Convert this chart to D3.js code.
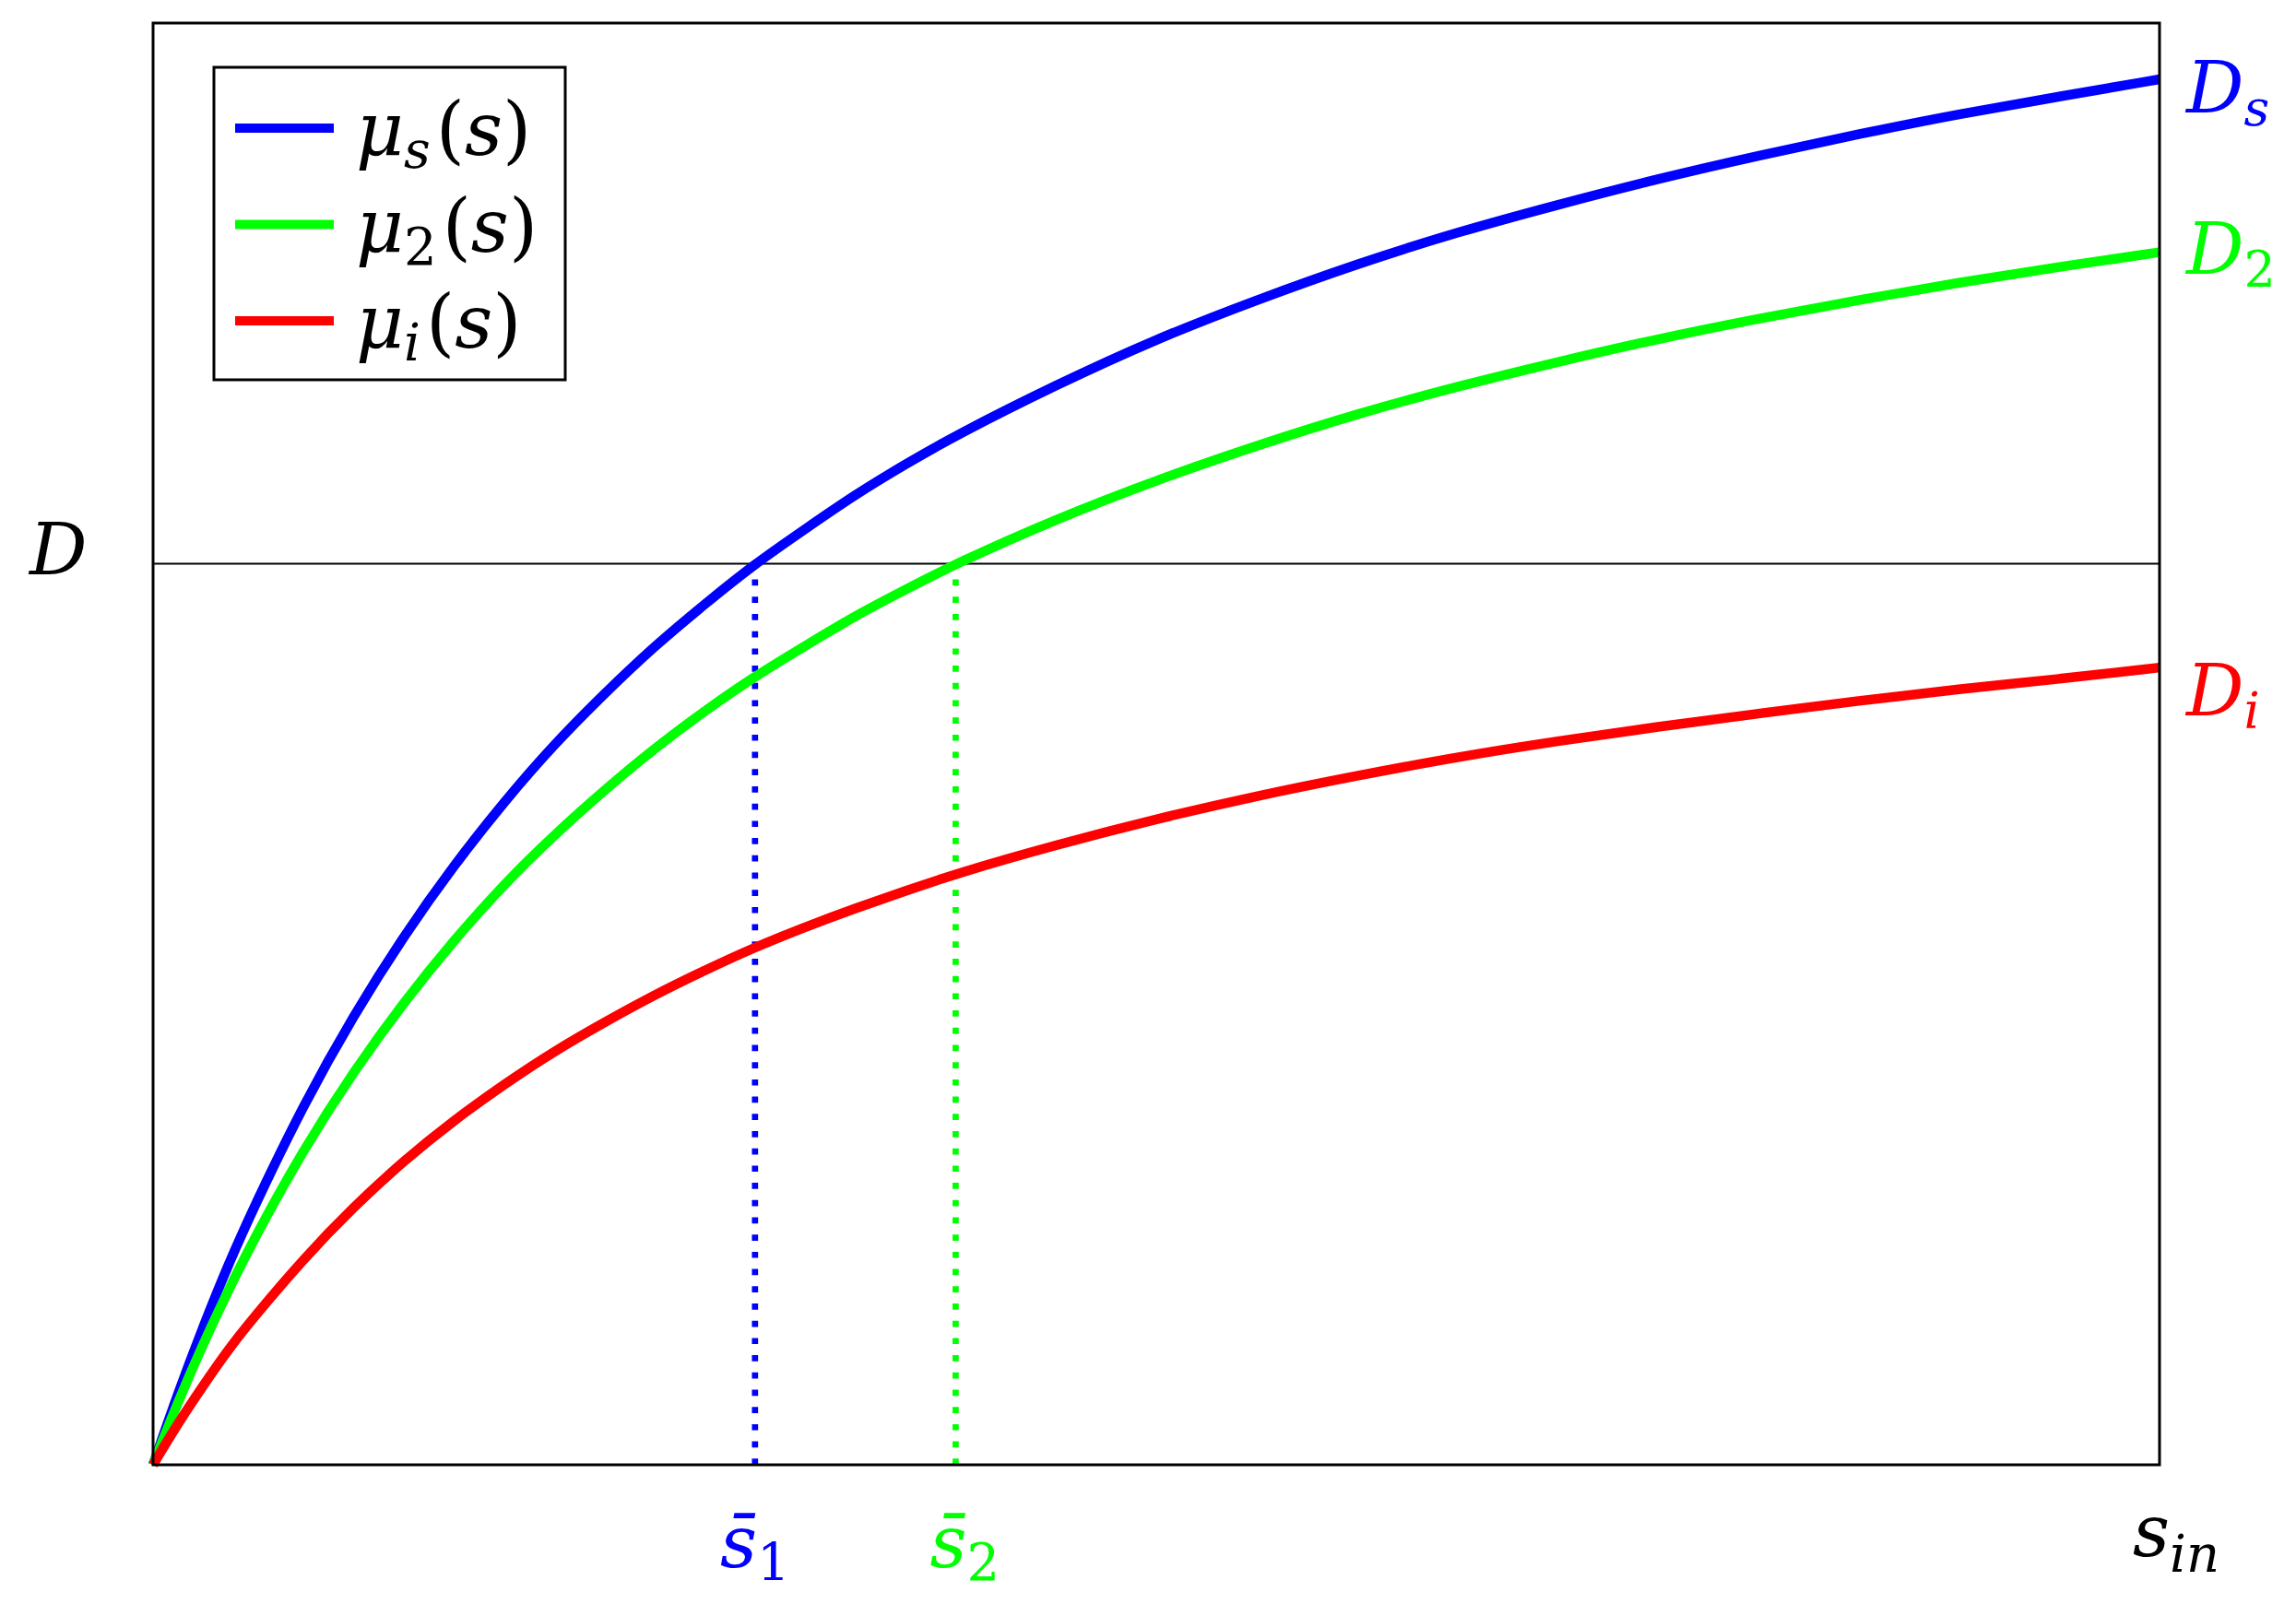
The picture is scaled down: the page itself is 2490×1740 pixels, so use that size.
<!DOCTYPE html>
<html>
<head>
    <meta charset="utf-8">
    <title>Monod curves</title>
    <script src="https://d3js.org/d3.v7.min.js"></script>
    <style>
        body { margin: 0; background: #ffffff; }
        text { font-family: "DejaVu Serif", serif; }
    </style>
</head>
<body>
<div id="chart"></div>
<script>
    // substrate concentration (fraction of s_in) and growth rates
    const sValues = [0, 0.0125, 0.025, 0.0375, 0.05, 0.075, 0.1, 0.125, 0.15, 0.175, 0.2, 0.225, 0.25, 0.275, 0.3, 0.325, 0.35, 0.375, 0.4, 0.45, 0.5, 0.55, 0.6, 0.65, 0.7, 0.75, 0.8, 0.85, 0.9, 0.95, 1.0];
    const muS = [0, 0.050, 0.096, 0.139, 0.178, 0.250, 0.312, 0.367, 0.416, 0.460, 0.500, 0.535, 0.568, 0.597, 0.625, 0.649, 0.673, 0.694, 0.714, 0.749, 0.781, 0.808, 0.833, 0.855, 0.874, 0.892, 0.908, 0.923, 0.937, 0.949, 0.961];
    const mu2 = [0, 0.044, 0.084, 0.121, 0.156, 0.219, 0.273, 0.321, 0.364, 0.403, 0.437, 0.468, 0.497, 0.523, 0.547, 0.568, 0.589, 0.607, 0.625, 0.656, 0.683, 0.707, 0.729, 0.748, 0.765, 0.781, 0.795, 0.808, 0.820, 0.831, 0.841];
    const muI = [0, 0.029, 0.055, 0.080, 0.102, 0.143, 0.179, 0.211, 0.239, 0.264, 0.287, 0.307, 0.326, 0.343, 0.359, 0.373, 0.386, 0.398, 0.410, 0.430, 0.448, 0.464, 0.478, 0.491, 0.502, 0.512, 0.521, 0.530, 0.538, 0.545, 0.553];

    const dilution = 0.625;          // D
    const sBar = [0.3, 0.4];         // s̄1, s̄2
    const seriesNames = ["s", "2", "i"];
    const seriesColors = ["#0000ff", "#00ff00", "#ff0000"];

    const W = 2490, H = 1740;
    const margin = { top: 25, right: 148, bottom: 151, left: 166 };
    const width = W - margin.left - margin.right;
    const height = H - margin.top - margin.bottom;

    const svg = d3.select("#chart").append("svg")
        .attr("width", W)
        .attr("height", H);

    const g = svg.append("g")
        .attr("transform", "translate(" + margin.left + "," + margin.top + ")");

    const x = d3.scaleLinear().domain([0, 1]).range([0, width]);
    const y = d3.scaleLinear().domain([0, 1]).range([height, 0]);

    const series = [muS, mu2, muI].map((vals, i) => ({
        name: seriesNames[i],
        color: seriesColors[i],
        points: vals.map((v, j) => [sValues[j], v])
    }));

    // horizontal D line
    g.append("line")
        .attr("x1", x(0)).attr("x2", x(1))
        .attr("y1", y(dilution)).attr("y2", y(dilution))
        .attr("stroke", "#000").attr("stroke-width", 2);

    // dotted lines down from the crossings
    g.selectAll(".drop")
        .data(sBar)
        .enter().append("line")
        .attr("class", "drop")
        .attr("x1", d => x(d)).attr("x2", d => x(d))
        .attr("y1", y(0)).attr("y2", y(dilution))
        .attr("stroke", (d, i) => seriesColors[i])
        .attr("stroke-width", 6.7)
        .attr("stroke-dasharray", "6.7 12");

    // basis spline smooths out the reading noise
    const line = d3.line()
        .x(d => x(d[0]))
        .y(d => y(d[1]))
        .curve(d3.curveBasis);

    g.selectAll(".curve")
        .data(series)
        .enter().append("path")
        .attr("class", "curve")
        .attr("d", d => line(d.points))
        .attr("fill", "none")
        .attr("stroke", d => d.color)
        .attr("stroke-width", 10.5);

    // frame
    g.append("rect")
        .attr("width", width).attr("height", height)
        .attr("fill", "none")
        .attr("stroke", "#000").attr("stroke-width", 3);

    // right-hand labels D_s, D_2, D_i
    const endOffsets = [36, 23, 52];
    series.forEach((s, i) => {
        const last = s.points[s.points.length - 1];
        const t = g.append("text")
            .attr("x", x(1) + 29)
            .attr("y", y(last[1]) + endOffsets[i])
            .attr("fill", s.color)
            .attr("font-size", 78);
        t.append("tspan").attr("font-style", "italic").text("D");
        t.append("tspan")
            .attr("font-size", 54)
            .attr("dy", 14)
            .attr("font-style", s.name === "2" ? "normal" : "italic")
            .text(s.name);
    });

    // left label D
    g.append("text")
        .attr("x", -134)
        .attr("y", y(dilution) + 11)
        .attr("font-size", 78)
        .attr("font-style", "italic")
        .text("D");

    // bottom labels s̄1, s̄2
    sBar.forEach((v, i) => {
        const t = g.append("text")
            .attr("x", x(v) + (i === 0 ? 0 : 10))
            .attr("y", y(0) + 111)
            .attr("text-anchor", "middle")
            .attr("fill", seriesColors[i])
            .attr("font-size", 78);
        t.append("tspan").attr("font-style", "italic").text("s\u0304");
        t.append("tspan").attr("font-size", 56).attr("dy", 14).text(String(i + 1));
    });

    // s_in
    const sin = g.append("text")
        .attr("x", x(1) + 18)
        .attr("y", y(0) + 99)
        .attr("text-anchor", "middle")
        .attr("font-size", 78)
        .attr("font-style", "italic");
    sin.append("tspan").text("s");
    sin.append("tspan").attr("font-size", 56).attr("dy", 17).text("in");

    // legend
    const legend = svg.append("g").attr("transform", "translate(232,73)");
    legend.append("rect")
        .attr("width", 381).attr("height", 339)
        .attr("fill", "#fff")
        .attr("stroke", "#000").attr("stroke-width", 3);

    series.forEach((s, i) => {
        const row = legend.append("g").attr("transform", "translate(0," + (66 + i * 104.5) + ")");
        row.append("line")
            .attr("x1", 23).attr("x2", 130)
            .attr("stroke", s.color).attr("stroke-width", 10);
        const t = row.append("text")
            .attr("x", 154)
            .attr("y", 29)
            .attr("font-size", 80);
        t.append("tspan").attr("font-style", "italic").text("\u03bc");
        t.append("tspan")
            .attr("font-size", 56)
            .attr("dy", 14)
            .attr("font-style", s.name === "2" ? "normal" : "italic")
            .text(s.name);
        t.append("tspan").attr("dy", -14).attr("dx", 6).text("(");
        t.append("tspan").attr("font-style", "italic").text("s");
        t.append("tspan").text(")");
    });
</script>
</body>
</html>
